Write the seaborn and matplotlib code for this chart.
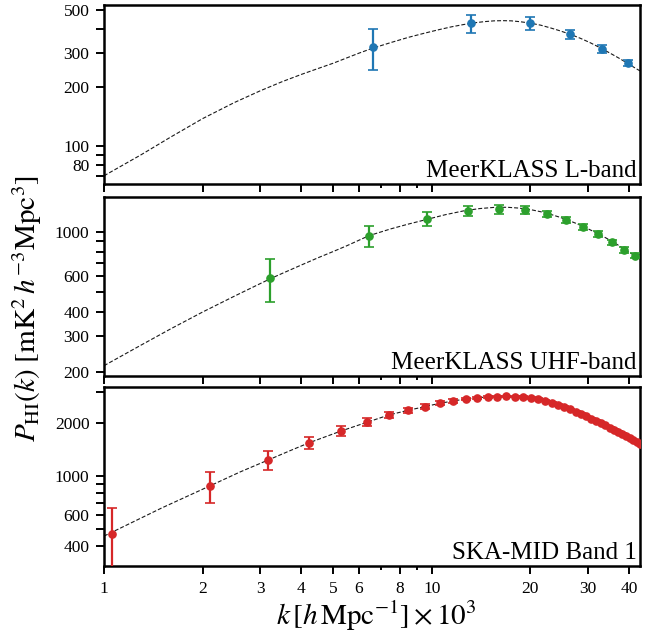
import matplotlib
matplotlib.use("Agg")
import matplotlib.pyplot as plt
import seaborn as sns
from matplotlib.ticker import FixedLocator, FuncFormatter, NullFormatter, LogLocator

# ---------------- data (k in units of 1e-3 h/Mpc) ----------------
# MeerKLASS L-band
k_lband = [6.6, 13.2, 19.9, 26.5, 33.1, 39.7]
p_lband = [322, 427, 427, 376, 314, 266]
err_lband = [77, 47, 34, 21, 15, 9]
k_curve_lband = [1, 1.3, 1.6, 2, 2.5, 3, 3.5, 4, 4.5, 5, 6, 6.6, 7.5, 8.5, 9.5, 10.5, 11.5,
                 12.5, 13.5, 14.5, 15.5, 16.5, 17.5, 18.5, 19.9, 21.5, 23, 24.5, 26.5, 28.5,
                 30.5, 33.1, 35.5, 37.5, 39.7, 41.5, 43.2]
p_curve_lband = [70, 90, 111, 138, 167, 192, 214, 233, 250, 266, 300, 318, 340, 362, 380, 396,
                 410, 421, 430, 436, 440, 441, 440, 436, 429, 418, 405, 392, 375, 357,
                 339, 316, 296, 281, 265, 253, 243]

# MeerKLASS UHF-band
k_uhf = [3.22, 6.44, 9.66, 12.88, 16.1, 19.32, 22.54, 25.76, 28.98, 32.2, 35.42, 38.64, 41.86]
p_uhf = [588, 962, 1166, 1283, 1309, 1294, 1235, 1157, 1067, 981, 891, 815, 763]
err_uhf = [143, 115, 95, 74, 68, 55, 42, 40, 37, 32, 27, 25, 21]
k_curve_uhf = [1, 1.3, 1.6, 2, 2.5, 3, 3.22, 3.5, 4, 4.5, 5, 5.5, 6.44, 7.5, 8.5, 9.66, 11,
               12.5, 14, 15.5, 17, 18.5, 20, 21.5, 23, 24.5, 26, 27.5, 29, 30.5, 32.2, 34,
               36, 38, 40, 41.86, 43.2]
p_curve_uhf = [214, 272, 328, 398, 478, 553, 585, 622, 685, 745, 800, 855, 962, 1040, 1100,
               1160, 1225, 1280, 1315, 1333, 1335, 1322, 1300, 1268, 1232, 1192, 1152, 1110,
               1068, 1027, 983, 937, 888, 840, 795, 758, 733]

# SKA-MID Band 1
k_ska = [1.06, 2.11, 3.17, 4.23, 5.29, 6.34, 7.40, 8.46, 9.51, 10.57, 11.63, 12.68,
         13.74, 14.80, 15.86, 16.91, 17.97, 19.03, 20.08, 21.14, 22.20, 23.25,
         24.31, 25.37, 26.43, 27.48, 28.54, 29.60, 30.65, 31.71, 32.77, 33.82,
         34.88, 35.94, 36.99, 38.05, 39.11, 40.17, 41.22, 42.28, 43.34]
p_ska = [467, 877, 1229, 1542, 1798, 2015, 2218, 2358, 2472, 2585, 2665, 2735,
         2780, 2810, 2825, 2830, 2825, 2805, 2775, 2730, 2675, 2610,
         2540, 2465, 2390, 2315, 2245, 2175, 2110, 2050, 1990, 1935,
         1880, 1825, 1775, 1725, 1675, 1630, 1590, 1550, 1515]
err_ska = [188, 174, 152, 122, 115, 105, 95, 85, 75, 65, 55, 45,
           40, 36, 33, 30, 28, 26, 25, 24, 23, 22,
           22, 21, 21, 20, 20, 19, 19, 18, 18, 18,
           17, 17, 17, 16, 16, 16, 15, 15, 15]
k_curve_ska = [1, 1.5, 2.11, 2.6, 3.17, 3.7, 4.23, 5.29, 6.34, 7.4, 8.46, 9.51, 10.57, 11.63,
               12.68, 13.74, 14.8, 15.86, 16.91, 17.97, 19.03, 20.08, 21.14, 22.2, 23.25,
               24.31, 25.37, 27.48, 29.6, 31.71, 33.82, 35.94, 38.05, 40.17, 43.2]
p_curve_ska = [453, 655, 877, 1050, 1229, 1390, 1542, 1798, 2015, 2218, 2358, 2472, 2585,
               2665, 2735, 2780, 2810, 2825, 2830, 2825, 2805, 2775, 2730, 2675, 2610,
               2540, 2465, 2315, 2175, 2050, 1935, 1825, 1725, 1630, 1510]

panel_names = ["MeerKLASS L-band", "MeerKLASS UHF-band", "SKA-MID Band 1"]
panel_colors = ["#1f77b4", "#2ca02c", "#d62728"]
ylims = [(63.5, 531), (190, 1508), (306, 3190)]
ytick_labels = [[80, 100, 200, 300, 500], [200, 300, 400, 600, 1000], [400, 600, 1000, 2000]]
xtick_major = [1, 2, 3, 4, 5, 6, 8, 10, 20, 30, 40]
xtick_minor = [7, 9]

# ---------------- style ----------------
sns.set_theme(style="ticks")
plt.rcParams["font.family"] = ["Liberation Serif", "DejaVu Serif"]
plt.rcParams["mathtext.fontset"] = "stix"
plt.rcParams["axes.edgecolor"] = "black"
plt.rcParams["xtick.color"] = "black"
plt.rcParams["ytick.color"] = "black"
plt.rcParams["text.color"] = "black"

fig = plt.figure(figsize=(6.7, 6.41), dpi=100)
rects = [[0.1552, 0.7129, 0.8, 0.2793],
         [0.1552, 0.4134, 0.8, 0.2797],
         [0.1552, 0.1170, 0.8, 0.2788]]

datasets = [
    (k_lband, p_lband, err_lband, k_curve_lband, p_curve_lband),
    (k_uhf, p_uhf, err_uhf, k_curve_uhf, p_curve_uhf),
    (k_ska, p_ska, err_ska, k_curve_ska, p_curve_ska),
]


def make_fmt(labels):
    def f(v, pos):
        for l in labels:
            if abs(v - l) < 1e-6 * l:
                return f"{l:d}"
        return ""
    return f


for i, (rect, data) in enumerate(zip(rects, datasets)):
    k, p, e, kc, pc = data
    ax = fig.add_axes(rect)
    ax.set_xscale("log")
    ax.set_yscale("log")
    sns.lineplot(x=kc, y=pc, ax=ax, color="#1a1a1a", lw=0.8,
                 linestyle=(0, (3.6, 1.8)), zorder=2)
    ax.errorbar(k, p, yerr=e, fmt="o", color=panel_colors[i], ms=5.2,
                elinewidth=1.6, capsize=3.6, capthick=1.2, zorder=3)
    ax.set_xlim(1, 43.2)
    ax.set_ylim(*ylims[i])

    ax.xaxis.set_major_locator(FixedLocator(xtick_major))
    ax.xaxis.set_minor_locator(FixedLocator(xtick_minor))
    ax.xaxis.set_minor_formatter(NullFormatter())
    if i == 2:
        ax.xaxis.set_major_formatter(FuncFormatter(lambda v, pos: f"{v:g}"))
    else:
        ax.xaxis.set_major_formatter(NullFormatter())

    ax.yaxis.set_major_locator(LogLocator(base=10))
    ax.yaxis.set_minor_locator(LogLocator(base=10, subs=[2, 3, 4, 5, 6, 7, 8, 9]))
    fmt = FuncFormatter(make_fmt(ytick_labels[i]))
    ax.yaxis.set_major_formatter(fmt)
    ax.yaxis.set_minor_formatter(fmt)

    ax.tick_params(axis="both", which="both", direction="out", width=1.4,
                   labelsize=12.5, pad=5)
    ax.tick_params(axis="x", which="major", length=5.5)
    ax.tick_params(axis="x", which="minor", length=3)
    ax.tick_params(axis="y", which="both", length=5.5)
    for s in ax.spines.values():
        s.set_linewidth(1.8)
        s.set_color("black")
    ax.set_xlabel("")
    ax.set_ylabel("")
    ax.text(0.994, 0.041, panel_names[i], transform=ax.transAxes,
            ha="right", va="baseline", fontsize=18)

fig.text(0.040, 0.518, r"$P_{\rm HI}(k)\ [{\rm mK}^2\,h^{-3}{\rm Mpc}^3]$",
         rotation=90, fontsize=21, ha="center", va="center")
fig.text(0.561, 0.040, r"$k\,[h\,{\rm Mpc}^{-1}]\times 10^3$",
         fontsize=21, ha="center", va="center")

fig.savefig("out.png", dpi=100)
